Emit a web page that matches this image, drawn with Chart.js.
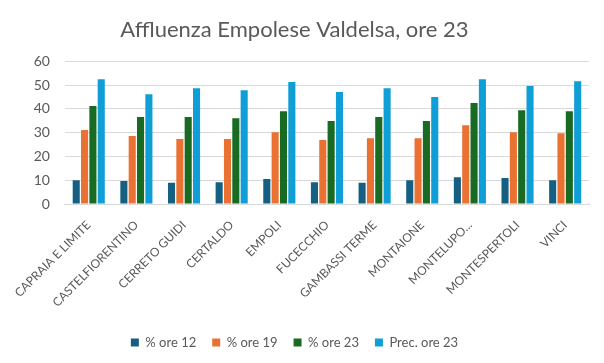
<!DOCTYPE html>
<html>
<head>
<meta charset="utf-8">
<script src="https://cdn.jsdelivr.net/npm/chart.js@4"></script>
<style>
    html, body { margin: 0; padding: 0; background: #ffffff; }
    #wrap { width: 604px; height: 363px; }
</style>
</head>
<body>
<div id="wrap"><canvas id="barChart" width="604" height="363"></canvas></div>
<script>
// Comuni (category labels, as shown on the axis)
const comuni = ['CAPRAIA E LIMITE', 'CASTELFIORENTINO', 'CERRETO GUIDI', 'CERTALDO', 'EMPOLI', 'FUCECCHIO',
    'GAMBASSI TERME', 'MONTAIONE', 'MONTELUPO...', 'MONTESPERTOLI', 'VINCI'];

// Affluenza per fascia oraria (%)
const ore12 = [10.0, 9.7, 8.9, 9.2, 10.5, 9.2, 8.9, 10.0, 11.3, 10.9, 10.0];
const ore19 = [31.1, 28.6, 27.3, 27.3, 30.2, 26.9, 27.7, 27.7, 33.1, 30.2, 29.8];
const ore23 = [41.2, 36.6, 36.6, 36.1, 39.0, 34.9, 36.6, 34.9, 42.5, 39.4, 39.0];
const prec23 = [52.5, 46.2, 48.7, 47.9, 51.3, 47.1, 48.7, 45.0, 52.5, 49.6, 51.7];

const yTicks = [0, 10, 20, 30, 40, 50, 60];

const textColor = '#595959';
const gridColor = '#d9d9d9';
const fontFamily = 'Lato, "Open Sans", sans-serif';

const ctx = document.getElementById('barChart').getContext('2d');
new Chart(ctx, {
    type: 'bar',
    data: {
        labels: comuni,
        datasets: [
            { label: '% ore 12', data: ore12, backgroundColor: '#156082' },
            { label: '% ore 19', data: ore19, backgroundColor: '#E97132' },
            { label: '% ore 23', data: ore23, backgroundColor: '#196B24' },
            { label: 'Prec. ore 23', data: prec23, backgroundColor: '#0F9ED5' }
        ]
    },
    options: {
        responsive: false,
        animation: false,
        layout: { padding: { left: 0, right: 15, top: 0, bottom: 4 } },
        datasets: { bar: { categoryPercentage: 0.7, barPercentage: 0.85 } },
        plugins: {
            title: {
                display: true,
                text: 'Affluenza Empolese Valdelsa, ore 23',
                color: textColor,
                font: { family: fontFamily, size: 22, weight: 'normal' },
                padding: { top: 17, bottom: 18 }
            },
            legend: {
                position: 'bottom',
                labels: {
                    color: textColor,
                    font: { family: fontFamily, size: 13 },
                    boxWidth: 8,
                    boxHeight: 8,
                    padding: 16
                }
            },
            tooltip: { enabled: false }
        },
        scales: {
            x: {
                grid: { display: false, drawTicks: false },
                border: { color: gridColor },
                ticks: {
                    color: textColor,
                    font: { family: fontFamily, size: 12 },
                    minRotation: 45,
                    maxRotation: 45,
                    autoSkip: false,
                    padding: 14
                },
                afterFit: function (scale) { scale.height = 116; }
            },
            y: {
                min: 0,
                max: 60,
                afterBuildTicks: function (scale) { scale.ticks = yTicks.map(v => ({ value: v })); },
                grid: { color: gridColor, drawTicks: false },
                border: { display: false },
                ticks: {
                    color: textColor,
                    font: { family: fontFamily, size: 14 },
                    padding: 15
                },
                afterFit: function (scale) { scale.width = 64; }
            }
        }
    }
});
</script>
</body>
</html>
